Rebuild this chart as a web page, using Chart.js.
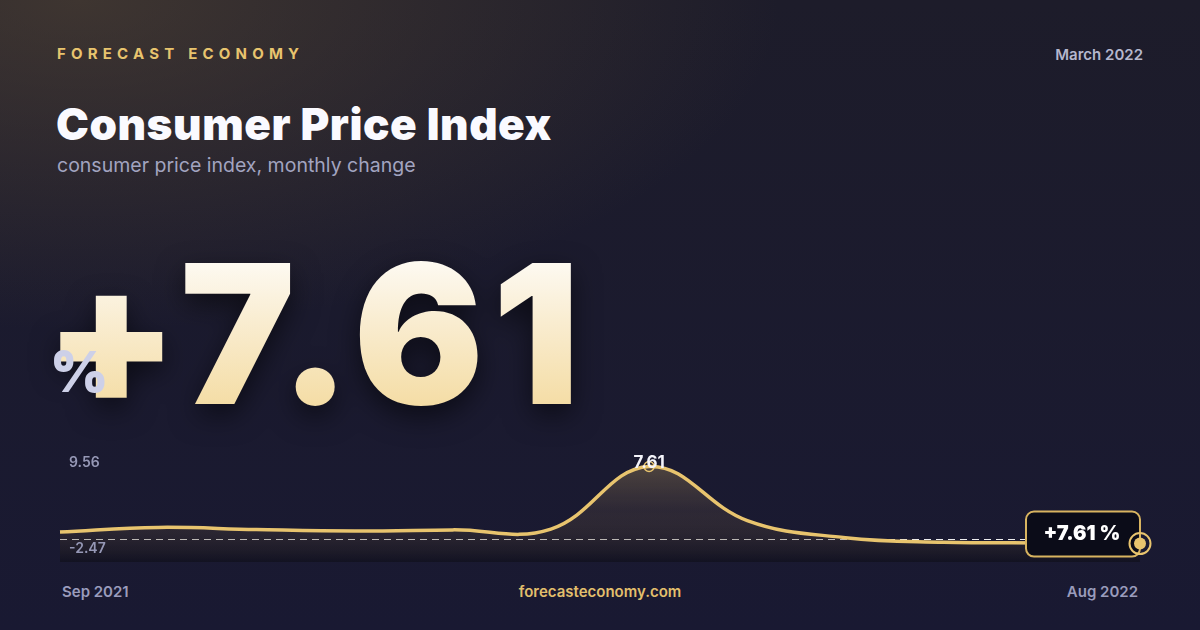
<!DOCTYPE html>
<html>
<head>
<meta charset="utf-8">
<script src="https://cdn.jsdelivr.net/npm/chart.js@4"></script>
<style>
  html, body { margin: 0; padding: 0; }
  body {
    width: 1200px; height: 630px; overflow: hidden; position: relative;
    font-family: Inter, "Noto Sans", sans-serif;
    background:
      radial-gradient(ellipse 700px 330px at 80px 0, rgba(95, 78, 55, 0.5) 0, rgba(95, 78, 55, 0) 100%),
      linear-gradient(180deg, #1d1c2a 0%, #191932 100%);
  }
  .t { position: absolute; line-height: 1; white-space: nowrap; }
  #brand { left: 57px; top: 46px; font-size: 15px; font-weight: 700; letter-spacing: 5.2px; color: #e8c46e; }
  #period { right: 57px; top: 47px; font-size: 15px; font-weight: 600; color: #b5b7cd; }
  #title { left: 56px; top: 102px; font-size: 44px; font-weight: 900; color: #fafaff; letter-spacing: 0.55px; }
  #subtitle { left: 57px; top: 156px; font-size: 19.5px; font-weight: 400; color: #a2a4c0; }
  #big {
    left: 44px; top: 237px; font-size: 194px; font-weight: 900; letter-spacing: 8px;
    background: linear-gradient(180deg, #ffffff 0%, #f9eccf 45%, #f3d898 100%);
    -webkit-background-clip: text; background-clip: text; color: transparent;
    filter: drop-shadow(0 10px 14px rgba(0, 0, 0, 0.55));
  }
  #pct { left: 50px; top: 344px; font-size: 56px; font-weight: 900; color: #cdd0e8; }
  .foot { top: 584px; font-size: 15px; font-weight: 600; color: #9a9cbc; }
  #start { left: 62px; }
  #end { right: 62px; }
  #site { left: 0; width: 1200px; text-align: center; color: #e2bf6c; }
  #chart { position: absolute; left: 0; top: 0; }
</style>
</head>
<body>
<div class="t" id="brand">FORECAST ECONOMY</div>
<div class="t" id="period">March 2022</div>
<div class="t" id="title">Consumer Price Index</div>
<div class="t" id="subtitle">consumer price index, monthly change</div>
<div class="t" id="big">+7.61</div>
<div class="t" id="pct">%</div>
<div class="t foot" id="start">Sep 2021</div>
<div class="t foot" id="site">forecasteconomy.com</div>
<div class="t foot" id="end">Aug 2022</div>
<canvas id="chart" width="1200" height="630"></canvas>

<script>
// data
const months = ['Sep 2021', 'Oct 2021', 'Nov 2021', 'Dec 2021', 'Jan 2022', 'Feb 2022',
                'Mar 2022', 'Apr 2022', 'May 2022', 'Jun 2022', 'Jul 2022', 'Aug 2022'];
const cpiChange = [0.70, 1.18, 0.95, 0.80, 0.92, 1.00, 7.61, 1.90, 0.10, -0.38, -0.46, -0.52];
const yTicks = [9.56, -2.47];
const headline = 7.61;

const gold = '#e8c46e';

// dashed zero line, range labels, peak + last point markers, badge
const overlay = {
  id: 'overlay',
  beforeDatasetsDraw(chart) {
    const { ctx, chartArea: { left, right }, scales: { y } } = chart;
    const y0 = Math.round(y.getPixelForValue(0)) + 0.5;
    ctx.save();
    ctx.strokeStyle = 'rgba(255,255,255,0.92)';
    ctx.lineWidth = 1.2;
    ctx.setLineDash([7, 5]);
    ctx.beginPath();
    ctx.moveTo(left, y0);
    ctx.lineTo(right, y0);
    ctx.stroke();
    ctx.restore();
  },
  afterDatasetsDraw(chart) {
    const { ctx, chartArea: { left, top, bottom } } = chart;
    const pts = chart.getDatasetMeta(0).data;
    ctx.save();
    ctx.font = '600 14px Inter, sans-serif';
    ctx.fillStyle = '#9698b6';
    ctx.textAlign = 'left';
    ctx.textBaseline = 'alphabetic';
    ctx.fillText(yTicks[0].toFixed(2), left + 9, top + 19);
    ctx.fillText(yTicks[1].toFixed(2), left + 9, bottom - 9);

    // peak marker
    let pi = 0;
    cpiChange.forEach((v, i) => { if (v > cpiChange[pi]) pi = i; });
    const p = pts[pi];
    ctx.strokeStyle = gold;
    ctx.lineWidth = 1.5;
    ctx.beginPath();
    ctx.arc(p.x, p.y, 5, 0, Math.PI * 2);
    ctx.stroke();
    ctx.font = '700 17px Inter, sans-serif';
    ctx.fillStyle = '#f4f4fa';
    ctx.textAlign = 'center';
    ctx.fillText(cpiChange[pi].toFixed(2), p.x, p.y + 2);

    // badge next to last point
    const last = pts[pts.length - 1];
    const bw = 114, bh = 45;
    const bx = last.x - bw, by = last.y - 32;
    ctx.beginPath();
    ctx.roundRect(bx, by, bw, bh, 8);
    ctx.fillStyle = '#0b0c18';
    ctx.fill();
    ctx.strokeStyle = '#d8b460';
    ctx.lineWidth = 2;
    ctx.stroke();
    ctx.font = '900 20px Inter, sans-serif';
    ctx.fillStyle = '#ffffff';
    ctx.textAlign = 'center';
    ctx.fillText('+' + headline.toFixed(2) + ' %', bx + bw / 2 - 1, by + 28);

    // last point
    ctx.beginPath();
    ctx.arc(last.x, last.y, 10.5, 0, Math.PI * 2);
    ctx.strokeStyle = gold;
    ctx.lineWidth = 2;
    ctx.stroke();
    ctx.beginPath();
    ctx.arc(last.x, last.y, 6, 0, Math.PI * 2);
    ctx.fillStyle = gold;
    ctx.fill();
    ctx.restore();
  }
};

new Chart(document.getElementById('chart'), {
  type: 'line',
  data: {
    labels: months,
    datasets: [{
      data: cpiChange,
      borderColor: gold,
      borderWidth: 3.5,
      tension: 0.4,
      pointRadius: 0,
      fill: 'start',
      backgroundColor(context) {
        const { ctx, chartArea } = context.chart;
        if (!chartArea) return 'transparent';
        const g = ctx.createLinearGradient(0, chartArea.top, 0, chartArea.bottom);
        g.addColorStop(0, 'rgba(232,196,110,0.34)');
        g.addColorStop(0.55, 'rgba(150,120,80,0.16)');
        g.addColorStop(1, 'rgba(8,8,12,0.4)');
        return g;
      }
    }]
  },
  options: {
    responsive: false,
    animation: false,
    layout: { padding: { left: 60, right: 60, top: 448, bottom: 68 } },
    scales: {
      x: { display: false },
      y: { display: false, min: yTicks[1], max: yTicks[0] }
    },
    plugins: {
      legend: { display: false },
      tooltip: { enabled: false }
    }
  },
  plugins: [overlay]
});
</script>
</body>
</html>
